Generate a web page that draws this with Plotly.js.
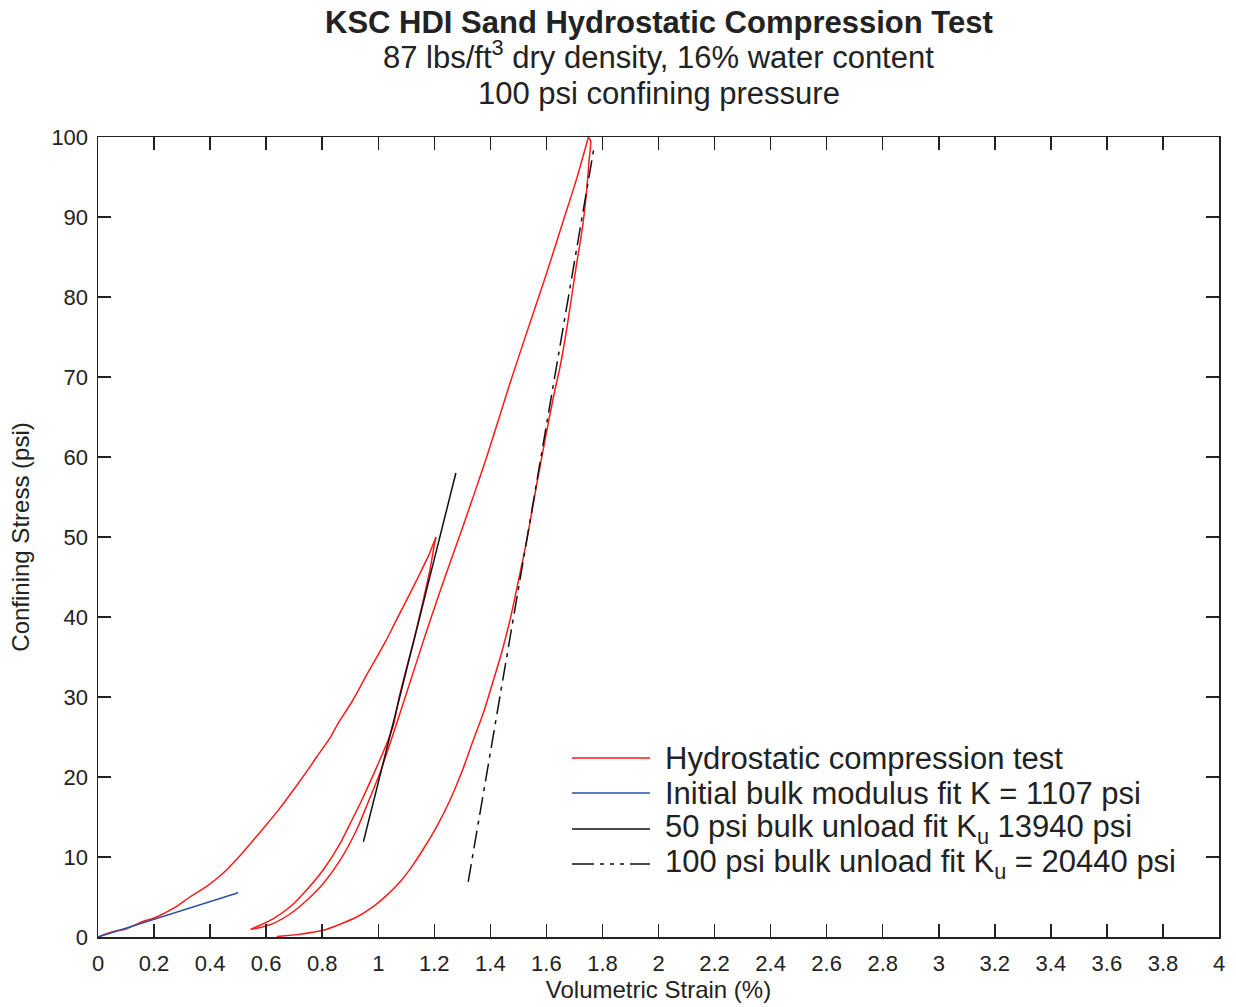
<!DOCTYPE html>
<html>
<head>
<meta charset="utf-8">
<script src="https://cdn.plot.ly/plotly-3.0.1.min.js"></script>
<style>html,body{margin:0;padding:0;background:#fff;}#chart{width:1236px;height:1007px;}</style>
</head>
<body>
<div id="chart"></div>
<script>
// ---- Data ----
// First loading, 0 -> 50 psi
var loadX = [0, 0.03, 0.07, 0.10, 0.126, 0.15, 0.209, 0.27, 0.328, 0.39, 0.447, 0.50, 0.554, 0.60, 0.64, 0.679, 0.745, 0.78, 0.828, 0.86, 0.899, 0.93, 0.959, 1.00, 1.030, 1.06, 1.101, 1.13, 1.155, 1.18, 1.197, 1.206];
var loadY = [0, 0.4, 0.8, 1.0, 1.4, 1.8, 2.5, 3.6, 5.0, 6.4, 8.0, 9.9, 12.1, 14.0, 15.7, 17.5, 20.7, 22.5, 24.9, 26.9, 29.0, 30.9, 32.8, 35.3, 37.2, 39.3, 42.1, 44.1, 45.9, 47.7, 49.2, 50.0];
// Unloading from 50 psi
var unload50X = [1.206, 1.200, 1.185, 1.160, 1.130, 1.100, 1.075, 1.054, 1.035, 0.994, 0.941, 0.900, 0.864, 0.804, 0.745, 0.690, 0.626, 0.580, 0.545];
var unload50Y = [50.0, 49.0, 46.0, 42.0, 37.5, 33.5, 30.0, 26.5, 24.6, 21.2, 17.1, 14.2, 11.7, 8.4, 5.9, 3.9, 2.3, 1.5, 0.96];
// Reloading to 100 psi
var reloadX = [0.545, 0.580, 0.626, 0.690, 0.745, 0.804, 0.864, 0.923, 0.960, 1.006, 1.045, 1.101, 1.175, 1.240, 1.304, 1.387, 1.468, 1.537, 1.601, 1.660, 1.708, 1.750];
var reloadY = [0.96, 1.2, 1.7, 3.0, 4.6, 6.7, 9.6, 13.4, 16.5, 20.5, 24.5, 30.5, 38.5, 45.2, 51.5, 60.0, 69.0, 76.3, 83.0, 89.5, 94.8, 100.0];
// Unloading from 100 psi
var unload100X = [1.750, 1.758, 1.752, 1.744, 1.728, 1.708, 1.690, 1.672, 1.650, 1.625, 1.595, 1.565, 1.530, 1.500, 1.470, 1.440, 1.411, 1.375, 1.339, 1.300, 1.256, 1.210, 1.161, 1.120, 1.078, 1.030, 0.982, 0.923, 0.864, 0.804, 0.720, 0.638];
var unload100Y = [100.0, 99.5, 97.0, 93.4, 88.5, 84.2, 80.0, 75.9, 71.5, 67.5, 62.1, 56.5, 49.6, 44.5, 39.6, 35.5, 32.1, 28.0, 24.6, 20.8, 17.1, 13.9, 11.0, 8.8, 6.9, 5.2, 3.8, 2.5, 1.6, 0.85, 0.35, 0.05];
// Fit lines
var initFitX = [0, 0.5];
var initFitY = [0, 5.535];
var fit50X = [0.947, 1.277];
var fit50Y = [11.9, 58.0];
var fit100X = [1.321, 1.770];
var fit100Y = [6.9, 98.7];
// Tick labels
var xTickVals = [0, 0.2, 0.4, 0.6, 0.8, 1, 1.2, 1.4, 1.6, 1.8, 2, 2.2, 2.4, 2.6, 2.8, 3, 3.2, 3.4, 3.6, 3.8, 4];
var xTickText = ["0", "0.2", "0.4", "0.6", "0.8", "1", "1.2", "1.4", "1.6", "1.8", "2", "2.2", "2.4", "2.6", "2.8", "3", "3.2", "3.4", "3.6", "3.8", "4"];
var yTickVals = [0, 10, 20, 30, 40, 50, 60, 70, 80, 90, 100];
var yTickText = ["0", "10", "20", "30", "40", "50", "60", "70", "80", "90", "100"];
// Legend labels
var legendNames = ["Hydrostatic compression test", "Initial bulk modulus fit K = 1107 psi", "50 psi bulk unload fit K<sub>u</sub> 13940 psi", "100 psi bulk unload fit K<sub>u</sub> = 20440 psi"];

// ---- Build ----
var RED = '#ff1a1a', BLUE = '#2b4ea8', BLACK = '#111111';
var FONT = 'Liberation Sans, Arial, Helvetica, sans-serif';
var dashDotPlot = '18px,6px,4px,6px';
var dashDotLegend = '22px,6px,4px,6px,4px,6px,4px,6px';

function redBranch(xs, ys) {
  return {x: xs, y: ys, mode: 'lines', line: {color: RED, width: 1.5, shape: 'spline', smoothing: 0.6}, showlegend: false};
}
var traces = [
  redBranch(loadX, loadY),
  redBranch(unload50X, unload50Y),
  redBranch(reloadX, reloadY),
  redBranch(unload100X, unload100Y),
  {x: initFitX, y: initFitY, mode: 'lines', line: {color: BLUE, width: 1.5}, showlegend: false},
  {x: fit50X, y: fit50Y, mode: 'lines', line: {color: BLACK, width: 1.5}, showlegend: false},
  {x: fit100X, y: fit100Y, mode: 'lines', line: {color: BLACK, width: 1.5, dash: dashDotPlot}, showlegend: false}
];

// plot area pixels -> paper
var L = 98, R = 1219, T = 137, B = 937;
function px(p) { return (p - L) / (R - L); }
function py(p) { return (B - p) / (B - T); }

var legColors = [RED, BLUE, BLACK, BLACK];
var legDash = ['solid', 'solid', 'solid', dashDotLegend];
var legRows = [758, 793, 829, 864];
var shapes = [], annotations = [];
for (var i = 0; i < legendNames.length; i++) {
  shapes.push({type: 'line', xref: 'paper', yref: 'paper', x0: px(572), x1: px(650), y0: py(legRows[i]), y1: py(legRows[i]),
    line: {color: legColors[i], width: 1.5, dash: legDash[i]}});
  annotations.push({xref: 'paper', yref: 'paper', x: px(663), y: py(legRows[i]), xanchor: 'left', yanchor: 'middle',
    text: legendNames[i], showarrow: false, font: {family: FONT, size: 31, color: '#222'}});
}
// Titles
annotations.push({xref: 'paper', yref: 'paper', x: 0.5, y: py(23), xanchor: 'center', yanchor: 'middle', showarrow: false,
  text: '<b>KSC HDI Sand Hydrostatic Compression Test</b>', font: {family: FONT, size: 31, color: '#222'}});
annotations.push({xref: 'paper', yref: 'paper', x: 0.5, y: py(55), xanchor: 'center', yanchor: 'middle', showarrow: false,
  text: '87 lbs/ft<sup>3</sup> dry density, 16% water content', font: {family: FONT, size: 31, color: '#222'}});
annotations.push({xref: 'paper', yref: 'paper', x: 0.5, y: py(93), xanchor: 'center', yanchor: 'middle', showarrow: false,
  text: '100 psi confining pressure', font: {family: FONT, size: 31, color: '#222'}});

var axisCommon = {
  showgrid: false, zeroline: false, showline: true, linecolor: '#222', linewidth: 1.5,
  ticks: 'inside', ticklen: 13, tickwidth: 1.5, tickcolor: '#222', mirror: 'ticks',
  tickfont: {family: FONT, size: 22, color: '#222'}, tickmode: 'array', automargin: false
};

var layout = {
  width: 1236, height: 1007,
  margin: {l: L, r: 1236 - R, t: T, b: 1007 - B, pad: 0},
  paper_bgcolor: '#fff', plot_bgcolor: '#fff',
  showlegend: false,
  xaxis: Object.assign({}, axisCommon, {range: [0, 4], tickvals: xTickVals, ticktext: xTickText, ticklabelstandoff: 6,
    title: {text: 'Volumetric Strain (%)', font: {family: FONT, size: 24, color: '#222'}, standoff: 5}}),
  yaxis: Object.assign({}, axisCommon, {range: [0, 100], tickvals: yTickVals, ticktext: yTickText, ticklabelstandoff: 4,
    title: {text: 'Confining Stress (psi)', font: {family: FONT, size: 24, color: '#222'}, standoff: 15}}),
  shapes: shapes,
  annotations: annotations
};

Plotly.newPlot('chart', traces, layout, {displayModeBar: false, staticPlot: true});
</script>
</body>
</html>
